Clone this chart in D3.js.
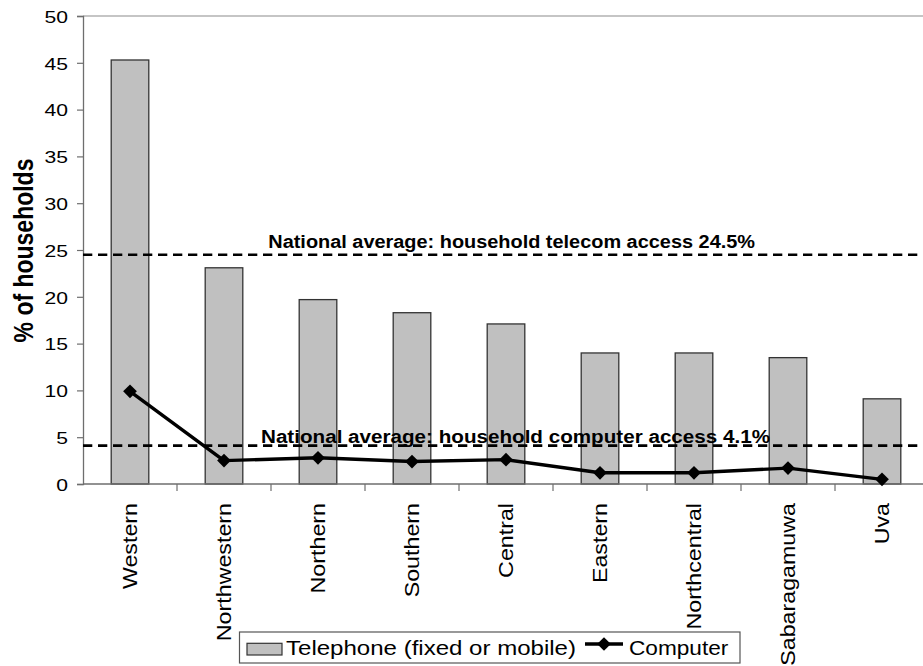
<!DOCTYPE html>
<html>
<head>
<meta charset="utf-8">
<script src="https://cdn.jsdelivr.net/npm/d3@7"></script>
<style>
  html, body { margin: 0; padding: 0; background: #fff; }
  svg { display: block; font-family: "Liberation Sans", Arial, Helvetica, sans-serif; }
</style>
</head>
<body>
<svg id="chart" width="923" height="666"></svg>
<script>
// Household access by province
const provinces = ["Western", "Northwestern", "Northern", "Southern", "Central", "Eastern", "Northcentral", "Sabaragamuwa", "Uva"];
const telephone = [45.3, 23.1, 19.7, 18.3, 17.1, 14.0, 14.0, 13.5, 9.1];
const computer = [9.9, 2.5, 2.8, 2.4, 2.6, 1.2, 1.2, 1.7, 0.5];
const yTicks = [0, 5, 10, 15, 20, 25, 30, 35, 40, 45, 50];
const telecomAverage = 24.5;
const computerAverage = 4.1;

(function draw() {
  const svg = d3.select("#chart");
  const plotLeft = 83, plotRight = 929, plotTop = 16, plotBottom = 484;

  const x = d3.scaleBand().domain(provinces).range([plotLeft, plotRight]).paddingInner(0).paddingOuter(0);
  const y = d3.scaleLinear().domain([0, 50]).range([plotBottom, plotTop]);
  const barW = x.bandwidth() * 0.4;
  const cx = d => x(d) + x.bandwidth() / 2;

  // plot frame top edge
  svg.append("line")
    .attr("x1", plotLeft).attr("x2", plotRight)
    .attr("y1", y(50)).attr("y2", y(50))
    .attr("stroke", "#8c8c8c").attr("stroke-width", 1.2);

  // bars
  svg.append("g").selectAll("rect")
    .data(provinces)
    .join("rect")
    .attr("x", d => cx(d) - barW / 2)
    .attr("y", (d, i) => y(telephone[i]))
    .attr("width", barW)
    .attr("height", (d, i) => y(0) - y(telephone[i]))
    .attr("fill", "#c0c0c0")
    .attr("stroke", "#333")
    .attr("stroke-width", 1.3);

  // y axis (labels drawn slightly wide)
  const yAxis = svg.append("g")
    .attr("transform", `translate(${plotLeft},0)`)
    .call(d3.axisLeft(y).tickValues(yTicks).tickSize(6).tickFormat(d3.format("d")));
  yAxis.select(".domain").attr("stroke", "#6e6e6e").attr("stroke-width", 1.3);
  yAxis.selectAll(".tick line").attr("stroke", "#6e6e6e").attr("stroke-width", 1.2);
  yAxis.selectAll(".tick text")
    .attr("font-size", 16.5).attr("fill", "#000")
    .attr("font-family", "Liberation Sans, Arial, sans-serif")
    .attr("x", -15 / 1.28).attr("dy", "0.38em")
    .attr("transform", "scale(1.28,1)");

  // x axis baseline and category boundary ticks
  svg.append("line")
    .attr("x1", plotLeft).attr("x2", plotRight)
    .attr("y1", y(0)).attr("y2", y(0))
    .attr("stroke", "#6e6e6e").attr("stroke-width", 1.3);
  svg.append("g").selectAll("line")
    .data(provinces.slice(1))
    .join("line")
    .attr("x1", d => x(d)).attr("x2", d => x(d))
    .attr("y1", y(0)).attr("y2", y(0) + 7)
    .attr("stroke", "#6e6e6e").attr("stroke-width", 1.2);

  // category labels
  svg.append("g").selectAll("text")
    .data(provinces)
    .join("text")
    .attr("transform", d => `translate(${cx(d) + 7},${y(0) + 19}) rotate(-90) scale(1.107,1)`)
    .attr("text-anchor", "end")
    .attr("font-size", 21)
    .attr("fill", "#000")
    .text(d => d);

  // y axis title
  svg.append("text")
    .attr("transform", `translate(33,250.5) rotate(-90) scale(1,1.2)`)
    .attr("text-anchor", "middle")
    .attr("font-size", 23)
    .attr("font-weight", "bold")
    .text("% of households");

  // national averages
  [[telecomAverage, "National average: household telecom access 24.5%", 268.3, 248.3, 486.7],
   [computerAverage, "National average: household computer access 4.1%", 261, 443, 509]].forEach(([v, label, tx, ty, tw]) => {
    svg.append("line")
      .attr("x1", plotLeft).attr("x2", plotRight)
      .attr("y1", y(v)).attr("y2", y(v))
      .attr("stroke", "#000").attr("stroke-width", 2.6)
      .attr("stroke-dasharray", "9.3,5.7");
    svg.append("text")
      .attr("x", tx).attr("y", ty)
      .attr("font-size", 18).attr("font-weight", "bold")
      .attr("textLength", tw).attr("lengthAdjust", "spacingAndGlyphs")
      .text(label);
  });

  // computer access line
  const line = d3.line()
    .x((d, i) => cx(provinces[i]))
    .y(d => y(d));
  svg.append("path")
    .datum(computer)
    .attr("d", line)
    .attr("fill", "none")
    .attr("stroke", "#000")
    .attr("stroke-width", 3.4)
    .attr("stroke-linejoin", "round");
  const diamond = d3.symbol().type(d3.symbolDiamond2).size(120);
  svg.append("g").selectAll("path")
    .data(computer)
    .join("path")
    .attr("transform", (d, i) => `translate(${cx(provinces[i])},${y(d)})`)
    .attr("d", diamond)
    .attr("fill", "#000");

  // legend
  const lg = svg.append("g");
  lg.append("rect")
    .attr("x", 239.5).attr("y", 632)
    .attr("width", 500.5).attr("height", 31)
    .attr("fill", "#fff").attr("stroke", "#555").attr("stroke-width", 1.2);
  lg.append("rect")
    .attr("x", 247).attr("y", 643.3).attr("width", 35).attr("height", 11.7)
    .attr("fill", "#c0c0c0").attr("stroke", "#333").attr("stroke-width", 1.2);
  lg.append("text")
    .attr("x", 286).attr("y", 655)
    .attr("font-size", 20)
    .attr("textLength", 290).attr("lengthAdjust", "spacingAndGlyphs")
    .text("Telephone (fixed or mobile)");
  lg.append("line")
    .attr("x1", 585).attr("x2", 623).attr("y1", 644).attr("y2", 644)
    .attr("stroke", "#000").attr("stroke-width", 3.4);
  lg.append("path")
    .attr("transform", "translate(604,644)")
    .attr("d", diamond).attr("fill", "#000");
  lg.append("text")
    .attr("x", 629).attr("y", 655)
    .attr("font-size", 20)
    .attr("textLength", 99.3).attr("lengthAdjust", "spacingAndGlyphs")
    .text("Computer");
})();
</script>
</body>
</html>
